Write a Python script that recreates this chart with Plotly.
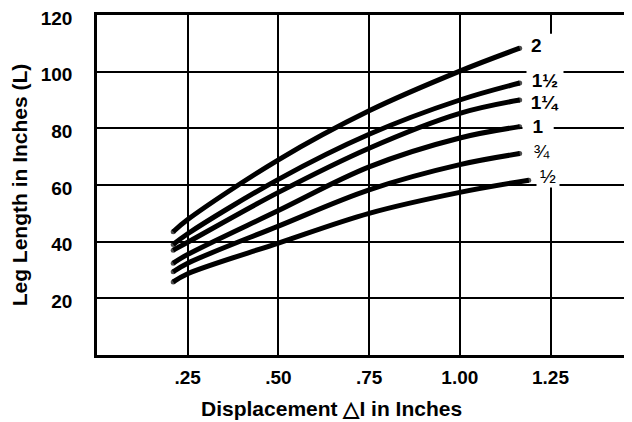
import plotly.graph_objects as go

# ---- data ----
curve_names = ["2", "1½", "1¼", "1", "¾", "½"]
x_common = [0.21, 0.25, 0.50, 0.75, 1.00, 1.165]
x_half = [0.21, 0.25, 0.50, 0.75, 1.00, 1.19]
y_2 = [43.5, 47.8, 68.9, 86.2, 100.2, 108.3]
y_1_5 = [39.0, 42.8, 62.0, 77.9, 90.0, 96.0]
y_1_25 = [37.0, 39.8, 57.4, 73.0, 85.3, 90.0]
y_1 = [32.4, 35.5, 51.0, 66.4, 76.6, 80.6]
y_0_75 = [29.4, 32.4, 45.5, 58.3, 67.2, 71.1]
y_0_5 = [25.8, 28.7, 39.5, 50.0, 57.4, 61.7]

x_tickvals = [0.25, 0.50, 0.75, 1.00, 1.25]
x_ticktext = [".25", ".50", ".75", "1.00", "1.25"]
y_tickvals = [20, 40, 60, 80, 100, 120]

series_x = [x_common, x_common, x_common, x_common, x_common, x_half]
series_y = [y_2, y_1_5, y_1_25, y_1, y_0_75, y_0_5]

# label styling / offsets (pixels)
label_xshift = [17, 25, 25, 18, 22, 19]
label_yshift = [3, 3, -2, 0, 2, 4]
label_width = [None, 36, 32, 30, 24, 22]
label_bold = [True, True, True, True, False, False]

FONT = "Liberation Sans, Arial, Helvetica, sans-serif"

fig = go.Figure()
for name, xs, ys in zip(curve_names, series_x, series_y):
    sizes = [5] + [0] * (len(xs) - 2) + [5]
    fig.add_trace(go.Scatter(
        x=xs, y=ys, name=name, mode="lines+markers",
        line=dict(color="black", width=5, shape="spline", smoothing=1),
        marker=dict(color="black", size=sizes, line=dict(width=0)),
        showlegend=False, hoverinfo="skip",
    ))

for name, xs, ys, dx, dy, w, b in zip(curve_names, series_x, series_y,
                                      label_xshift, label_yshift, label_width, label_bold):
    ann = dict(
        x=xs[-1], y=ys[-1], xref="x", yref="y", text=name, showarrow=False,
        xshift=dx, yshift=dy, bgcolor="white", borderpad=0,
        font=dict(family=FONT, size=19, color="black", weight="bold" if b else "normal"),
    )
    if w:
        ann["width"] = w
    fig.add_annotation(**ann)

# x-axis title as text
fig.add_annotation(
    x=0.4385, y=-0.156, xref="paper", yref="paper", showarrow=False,
    text="Displacement △I in Inches", xanchor="center", yanchor="middle",
    font=dict(family=FONT, size=21, color="black", weight="bold"),
)

# white band hiding the 1.25 gridline behind the labels
fig.add_shape(type="rect", xref="x", yref="y", x0=1.24, x1=1.258, y0=60.4, y1=113.4,
              fillcolor="white", line=dict(width=0), layer="between")

# the page places the figure 8px from the top-left corner, so the figure is
# sized 8px smaller to keep the plot area where the reference has it
fig.update_layout(
    width=624, height=414,
    margin=dict(l=89, r=0, t=7, b=67, autoexpand=False),
    paper_bgcolor="white", plot_bgcolor="white",
    font=dict(family=FONT, color="black"),
    xaxis=dict(
        range=[0, 1.4746], tickvals=x_tickvals, ticktext=x_ticktext,
        showgrid=True, gridcolor="black", gridwidth=2,
        showline=True, linecolor="black", linewidth=3, mirror=True,
        ticks="", zeroline=False, ticklabelstandoff=3, automargin=False,
        ticklabeloverflow="allow",
        tickfont=dict(family=FONT, size=19, color="black", weight="bold"),
    ),
    yaxis=dict(
        range=[0, 120], tickvals=y_tickvals,
        showgrid=True, gridcolor="black", gridwidth=2,
        showline=True, linecolor="black", linewidth=2.5,
        ticks="", zeroline=False, ticklabelstandoff=18, automargin=False,
        ticklabeloverflow="allow", ticklabelshift=3,
        tickfont=dict(family=FONT, size=19, color="black", weight="bold"),
        title=dict(text="Leg Length in Inches (L)", standoff=22,
                   font=dict(family=FONT, size=21, color="black", weight="bold")),
    ),
)

fig.write_html("out.html")
